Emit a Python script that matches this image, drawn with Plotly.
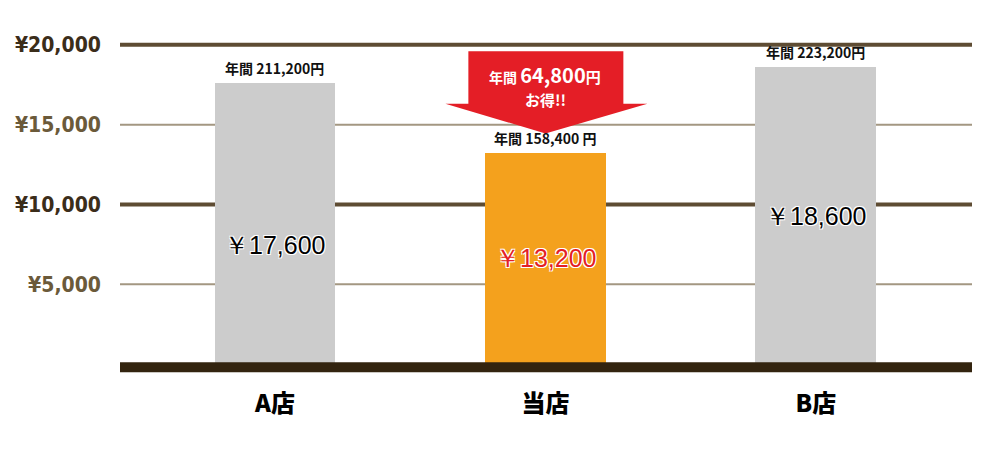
import plotly.graph_objects as go

# data
stores = ["A店", "当店", "B店"]
monthly = [17600, 13200, 18600]
yearly = ["年間 211,200円", "年間 158,400 円", "年間 223,200円"]
savings_text = "64,800"
y_ticks = [5000, 10000, 15000, 20000]
y_ticktext = ["¥5,000", "¥10,000", "¥15,000", "¥20,000"]

bar_colors = ["#cccccc", "#f4a11d", "#cccccc"]
value_colors = ["#000000", "#e41e26", "#000000"]
value_label_y = [7440, 6625, 9250]   # where the big price sits inside each bar

x = list(range(len(stores)))

fig = go.Figure()
fig.add_trace(go.Bar(
    x=x, y=monthly, width=0.447,
    marker=dict(color=bar_colors, line=dict(width=0)),
    hoverinfo="skip",
))

# grid lines: thick for 10k steps, thin for the 5k in between
for v in y_ticks:
    major = v % 10000 == 0
    fig.add_shape(type="line", xref="paper", yref="y", x0=0, x1=1, y0=v, y1=v,
                  line=dict(color="#5e4c33" if major else "#a39782",
                            width=4 if major else 2),
                  layer="below")
# heavy base line
fig.add_shape(type="line", xref="paper", yref="y", x0=0, x1=1, y0=-190, y1=-190,
              line=dict(color="#33240f", width=10), layer="above")

# yearly totals above the bars
for i, t in enumerate(yearly):
    fig.add_annotation(x=i, y=monthly[i], text=t, showarrow=False,
                       yanchor="bottom", yshift=3,
                       font=dict(family="Noto Sans CJK JP", size=14, color="#111111", weight=700))

# big price inside the bars
for i, v in enumerate(monthly):
    fig.add_annotation(x=i, y=value_label_y[i], text="￥" + f"{v:,}", showarrow=False,
                       font=dict(family="Liberation Sans", size=25, color=value_colors[i],
                                 shadow="1px 1px 0 #fff, -1px -1px 0 #fff, 1px -1px 0 #fff, -1px 1px 0 #fff"))

# red "savings" arrow over our store
c = 1
fig.add_shape(type="path", xref="x", yref="y",
              path=(f"M {c-0.285},19600 L {c+0.288},19600 L {c+0.288},16300 "
                    f"L {c+0.377},16300 L {c},14450 L {c-0.37},16300 "
                    f"L {c-0.285},16300 Z"),
              fillcolor="#e41e26", line=dict(width=0), layer="above")
fig.add_annotation(x=c, y=18150, showarrow=False,
                   text=f"年間 <span style='font-size:20px'>{savings_text}</span><span style='font-size:15px'>円</span>",
                   font=dict(family="Noto Sans CJK JP", size=14, color="#ffffff", weight=700))
fig.add_annotation(x=c, y=16550, showarrow=False, text="お得!!",
                   font=dict(family="Noto Sans CJK JP", size=15, color="#ffffff", weight=700))

tick_colors = {5000: "#6b5a3a", 10000: "#3b2d1a", 15000: "#6b5a3a", 20000: "#3b2d1a"}
# the page adds an 8px body margin, so margins are trimmed by that much
fig.update_layout(
    width=1000, height=450,
    margin=dict(l=112, r=36, t=24, b=81),
    paper_bgcolor="white", plot_bgcolor="white",
    showlegend=False,
    bargap=0,
    xaxis=dict(range=[-0.573, 2.577], tickvals=x, ticktext=stores,
               showgrid=False, zeroline=False, showline=False, ticks="",
               ticklabelstandoff=10, automargin=False,
               tickfont=dict(family="Noto Sans CJK JP", size=24, color="#000000", weight=900)),
    yaxis=dict(range=[-800, 20800], tickvals=y_ticks,
               ticktext=[f"<span style='color:{tick_colors[v]}'>{t}</span>" for v, t in zip(y_ticks, y_ticktext)],
               showgrid=False, zeroline=False, showline=False, ticks="",
               ticklabelstandoff=18, automargin=False,
               tickfont=dict(family="DejaVu Sans Condensed, Liberation Sans", size=21, weight=700)),
)

fig.write_html("out.html")
